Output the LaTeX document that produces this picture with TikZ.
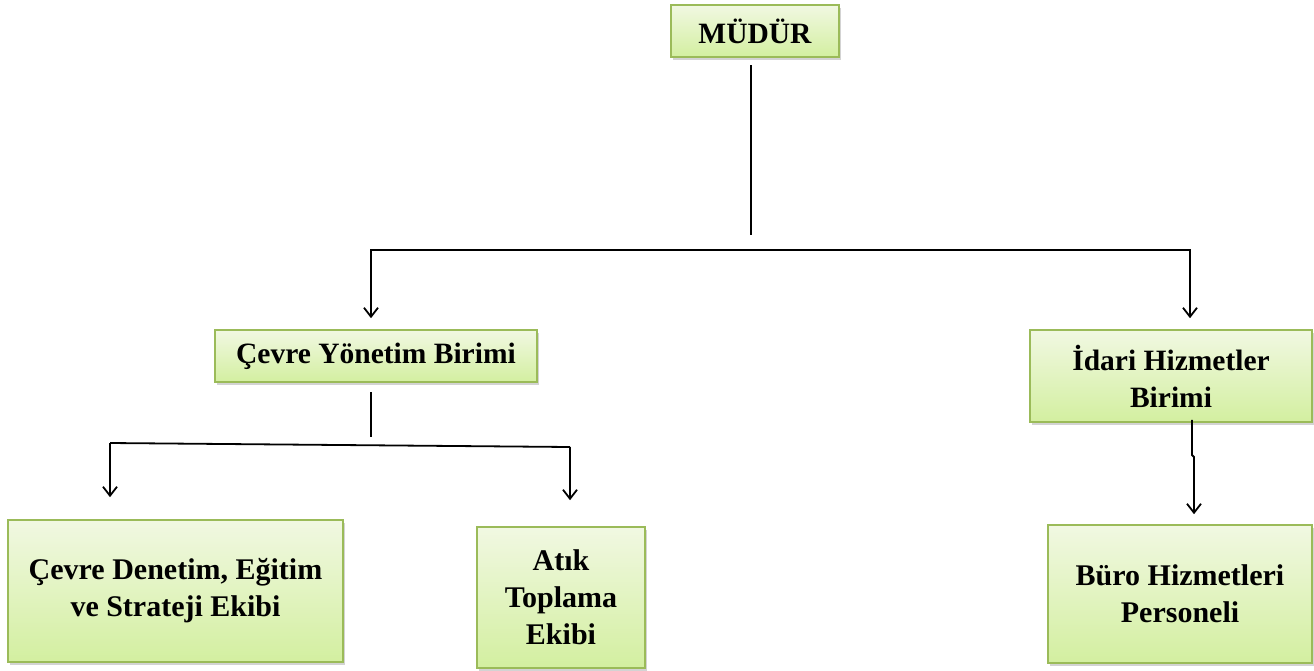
\documentclass[tikz,border=0pt]{standalone}
\usepackage{fontspec}
\setmainfont{Liberation Serif}
\usetikzlibrary{arrows.meta,shadows,calc}
\definecolor{boxtop}{HTML}{F1F8E2}
\definecolor{boxbot}{HTML}{D3EFA0}
\definecolor{boxline}{HTML}{9BBB59}
\tikzset{
  orgbox/.style={draw=boxline, line width=1.6pt, top color=boxtop, bottom color=boxbot,
    drop shadow={opacity=0.35, shadow xshift=2pt, shadow yshift=-3pt, fill=gray},
    align=center, inner sep=0pt, font=\bfseries\fontsize{29.5}{37}\selectfont},
  lowbox/.style={orgbox, font=\bfseries\fontsize{30}{37}\selectfont},
  conn/.style={line width=1.8pt, draw=black},
  tip/.style={-{Straight Barb[length=9pt,width=14pt,line width=1.8pt]}},
  tips/.style={{Straight Barb[length=9pt,width=14pt,line width=1.8pt]}-{Straight Barb[length=9pt,width=14pt,line width=1.8pt]}}
}
\begin{document}
\begin{tikzpicture}[x=1pt,y=-1pt]
\useasboundingbox (0,0) rectangle (1314,670);
\node[orgbox, minimum width=168pt, minimum height=52pt] (mudur) at (755,31) {MÜDÜR};
\node[orgbox, minimum width=322pt, minimum height=52pt] (cy) at (376,356) {Çevre Yönetim Birimi};
\node[orgbox, minimum width=282pt, minimum height=92pt] (ih) at (1171,376) {İdari Hizmetler\\Birimi};
\node[lowbox, minimum width=335pt, minimum height=142pt] (cd) at (175.5,591) {Çevre Denetim, Eğitim\\ve Strateji Ekibi};
\node[lowbox, minimum width=168pt, minimum height=141pt] (at) at (561,597.5) {Atık\\Toplama\\Ekibi};
\node[lowbox, minimum width=264pt, minimum height=138pt] (bh) at (1180,594) {Büro Hizmetleri\\Personeli};

% top
\coordinate (t1) at (751,65);
\coordinate (t2) at (751,235);
\draw[conn] (t1) -- (t2);
\coordinate (hL) at (371,250);
\coordinate (hR) at (1190,250);
\draw[conn, tips, shorten <=11pt, shorten >=11pt] (hL |- cy.north) -- (hL) -- (hR) -- (hR |- ih.north);

% Çevre Yönetim children
\coordinate (m1) at (371,392);
\coordinate (m2) at (371,437);
\draw[conn] (m1) -- (m2);
\coordinate (gL) at (110,443);
\coordinate (gR) at (570,447);
\draw[conn] (gL) -- (gR);
\draw[conn, tip, shorten >=22pt] (gL) -- (gL |- cd.north);
\draw[conn, tip, shorten >=26pt] (gR) -- (gR |- at.north);

% İdari -> Büro
\coordinate (k1) at (1192,455);
\coordinate (k2) at (1194,457);
\draw[conn, tip, shorten >=10pt] ([yshift=3pt]ih.south -| k1) -- (k1) -- (k2) -- (k2 |- bh.north);
\end{tikzpicture}
\end{document}
